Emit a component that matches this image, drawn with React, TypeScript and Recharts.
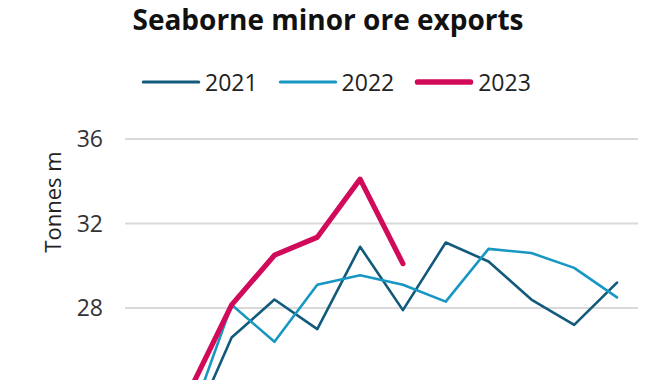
import React from "react";
import { LineChart, Line, XAxis, YAxis, CartesianGrid } from "recharts";

const months = ["Jan", "Feb", "Mar", "Apr", "May", "Jun", "Jul", "Aug", "Sep", "Oct", "Nov", "Dec"];
const series2021 = [23.0, 22.0, 26.6, 28.4, 27.0, 30.9, 27.9, 31.1, 30.2, 28.4, 27.2, 29.2];
const series2022 = [23.5, 22.5, 28.15, 26.4, 29.1, 29.55, 29.1, 28.3, 30.8, 30.6, 29.9, 28.5];
const series2023: (number | null)[] = [23.8, 24.0, 28.15, 30.5, 31.35, 34.1, 30.1, null, null, null, null, null];
const yTicks = [28, 32, 36];

const title = "Seaborne minor ore exports";
const yLabel = "Tonnes m";

const seriesDefs = [
  { key: "y2021", name: "2021", color: "#125a7c", width: 2.6 },
  { key: "y2022", name: "2022", color: "#1797c2", width: 2.6 },
  { key: "y2023", name: "2023", color: "#d10a5a", width: 5.2 },
];

const data = months.map((m, i) => ({
  month: m,
  y2021: series2021[i],
  y2022: series2022[i],
  y2023: series2023[i],
}));

const FONT = "'Open Sans', sans-serif";

export default function App() {
  return (
    <div
      style={{
        position: "absolute",
        left: 0,
        top: 0,
        width: 670,
        height: 380,
        overflow: "hidden",
        background: "#fff",
        fontFamily: FONT,
      }}
    >
      <div
        style={{
          position: "absolute",
          left: 0,
          top: 0,
          width: 656,
          textAlign: "center",
          fontSize: 28,
          fontWeight: 700,
          color: "#111",
          lineHeight: "38px",
        }}
      >
        {title}
      </div>
      <div
        style={{
          position: "absolute",
          left: 141,
          top: 64,
          display: "flex",
          alignItems: "center",
          fontSize: 23,
          color: "#222",
          lineHeight: "36px",
        }}
      >
        {seriesDefs.map((s) => (
          <div key={s.key} style={{ display: "flex", alignItems: "center", marginRight: 20 }}>
            <svg width={60} height={12} style={{ marginRight: 4 }}>
              <line
                x1={s.width / 2 + 1}
                x2={59 - s.width / 2}
                y1={6}
                y2={6}
                stroke={s.color}
                strokeWidth={s.width + 0.5}
                strokeLinecap="round"
              />
            </svg>
            <span>{s.name}</span>
          </div>
        ))}
      </div>
      <div
        style={{
          position: "absolute",
          left: 52,
          top: 202,
          transform: "translate(-50%, -50%) rotate(-90deg)",
          fontSize: 22,
          color: "#222",
          whiteSpace: "nowrap",
        }}
      >
        {yLabel}
      </div>
      <div style={{ position: "absolute", left: 0, top: 0 }}>
        <LineChart
          width={670}
          height={540}
          data={data}
          margin={{ top: 139, right: 32, left: 65, bottom: 63 }}
        >
          <CartesianGrid vertical={false} stroke="#d9d9d9" strokeWidth={2} />
          <XAxis dataKey="month" hide padding={{ left: 21, right: 21 }} />
          <YAxis
            width={60}
            domain={[20, 36]}
            ticks={yTicks}
            axisLine={false}
            tickLine={false}
            tickSize={0}
            tickMargin={22}
            tick={{ fill: "#333", fontSize: 23, fontFamily: FONT }}
          />
          {seriesDefs.map((s) => (
            <Line
              key={s.key}
              type="linear"
              dataKey={s.key}
              name={s.name}
              stroke={s.color}
              strokeWidth={s.width}
              strokeLinecap="round"
              strokeLinejoin="round"
              dot={false}
              activeDot={false}
              isAnimationActive={false}
            />
          ))}
        </LineChart>
      </div>
    </div>
  );
}
